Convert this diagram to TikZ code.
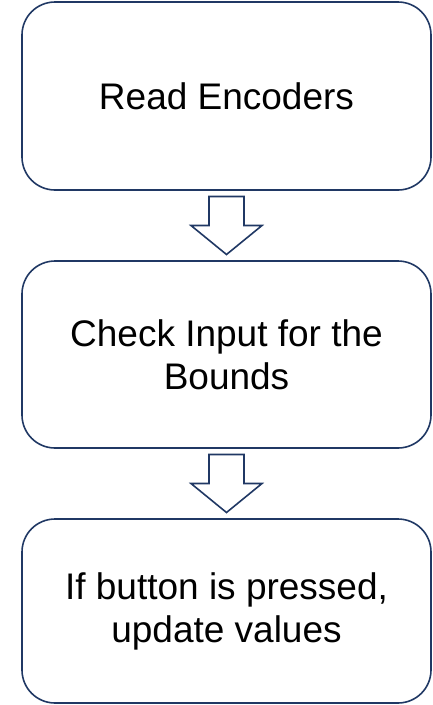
\documentclass[tikz,border=0pt]{standalone}
\usepackage{fontspec}
\setmainfont{Liberation Sans}
\usetikzlibrary{calc}
\definecolor{navy}{HTML}{203864}
\tikzset{
  stepbox/.style={draw=navy, line width=1.6pt, rounded corners=33pt,
    minimum width=409pt, align=center, inner sep=0pt,
    font=\fontsize{37pt}{43pt}\selectfont, text=black},
  blockarrow/.style={draw=navy, line width=1.6pt, fill=white, line join=miter}
}
% hollow down arrow centred on a point
\newcommand{\downarrowat}[1]{%
  \draw[blockarrow] ($(#1)+(-17.5,-29)$) -- ($(#1)+(17.5,-29)$) --
    ($(#1)+(17.5,0)$) -- ($(#1)+(35.5,0)$) -- ($(#1)+(0,29)$) --
    ($(#1)+(-35.5,0)$) -- ($(#1)+(-17.5,0)$) -- cycle;}
\begin{document}
\begin{tikzpicture}[x=1pt,y=-1pt]
\useasboundingbox (0,0) rectangle (433,705);
\node[stepbox, minimum height=188pt] (read) at (226.5,96) {Read Encoders};
\node[stepbox, minimum height=187pt] (check) at (226.5,354.5) {Check Input for the\\Bounds};
\node[stepbox, minimum height=184pt] (update) at (226.5,611) {If button is pressed,\\update values};
\coordinate (a1) at ($(read.south)!0.5!(check.north)$);
\coordinate (a2) at ($(check.south)!0.5!(update.north)$);
\downarrowat{a1}
\downarrowat{a2}
\end{tikzpicture}
\end{document}
